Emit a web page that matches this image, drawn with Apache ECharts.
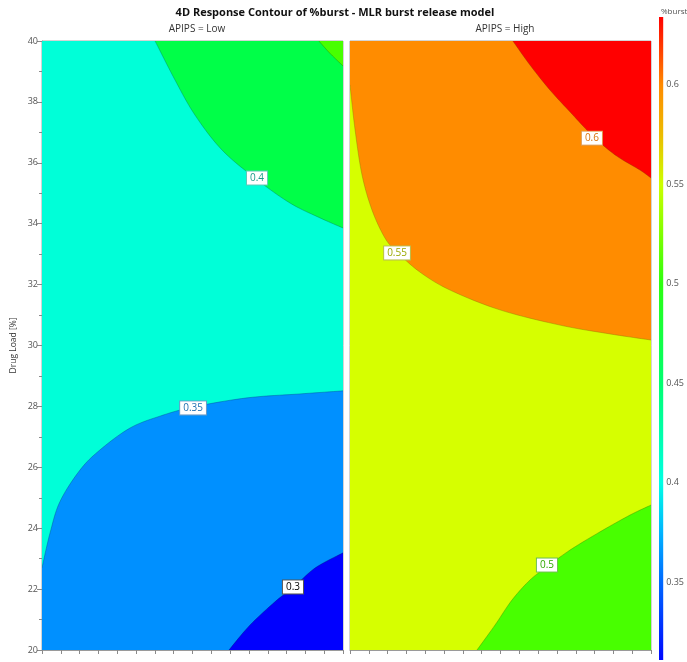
<!DOCTYPE html>
<html><head><meta charset="utf-8">
<script src="https://cdn.jsdelivr.net/npm/echarts@6/dist/echarts.min.js"></script>
<style>html,body{margin:0;padding:0;background:#fff}#c{width:687px;height:662px}</style>
</head><body><div id="c"></div>
<script>
// ---- data (x: factor position 0..16, y: Drug Load [%]) ----
const xRange = [0, 16];
const yRange = [20, 40];
const colorbarTicks = [0.35, 0.4, 0.45, 0.5, 0.55, 0.6];
const colorbarRange = [0.311, 0.634];
const panelTitles = ['APIPS = Low', 'APIPS = High'];

// APIPS = Low contour lines
const low030 = [[9.94,20],[11.06,20.82],[12.49,21.64],[13.34,22.04],[14.51,22.69],[16,23.19]];
const low035 = [[0,22.7],[0.43,23.85],[0.96,24.88],[2.02,25.91],[3.08,26.57],[4.68,27.29],[6.27,27.68],[8.03,27.98],[10.9,28.28],[13.71,28.41],[16,28.51]];
const low040 = [[6.01,40],[7.07,38.72],[8.13,37.57],[9.57,36.42],[11.38,35.47],[13.18,34.68],[14.78,34.19],[16,33.86]];
const low045 = [[14.72,40],[15.3,39.6],[16,39.18]];
// APIPS = High contour lines
const high050 = [[6.75,20],[7.71,20.82],[8.61,21.64],[9.57,22.3],[10.47,22.73],[11.69,23.28],[13.29,23.88],[14.88,24.43],[16,24.76]];
const high055 = [[0,38.56],[0.27,37.08],[0.64,35.6],[1.17,34.45],[1.86,33.53],[2.5,33.07],[3.72,32.41],[5.32,31.82],[7.97,31.17],[11.16,30.67],[13.82,30.38],[16,30.18]];
const high060 = [[8.66,40],[9.57,39.21],[10.63,38.39],[11.7,37.67],[12.86,36.91],[14.09,36.26],[15.42,35.76],[16,35.5]];

// contour label positions [x, y, text]
const lowLabels = [[11.43,35.5,'0.4'],[8.03,27.95,'0.35'],[13.34,22.07,'0.3']];
const highLabels = [[12.86,36.81,'0.6'],[2.5,33.04,'0.55'],[10.47,22.79,'0.5']];

// ---- build regions ----
const full = [[xRange[0],yRange[0]],[xRange[1],yRange[0]],[xRange[1],yRange[1]],[xRange[0],yRange[1]]];
const TR = [xRange[1],yRange[1]], BR = [xRange[1],yRange[0]], BL = [xRange[0],yRange[0]], TL = [xRange[0],yRange[1]];

const lowRegions = [
  {curve: full, corners: [], color: '#00ffd8', flat: true},
  {curve: low040, corners: [TR], color: '#00ff48', line: 'rgba(0,120,80,0.5)'},
  {curve: low045, corners: [TR], color: '#48ff00', line: 'rgba(40,120,0,0.5)'},
  {curve: low035, corners: [BR, BL], color: '#0090ff', line: 'rgba(0,70,140,0.5)'},
  {curve: low030, corners: [BR], color: '#0000ff', line: 'rgba(0,0,120,0.5)'}
];
const highRegions = [
  {curve: full, corners: [], color: '#d6ff00', flat: true},
  {curve: high055, corners: [TR, TL], color: '#ff8c00', line: 'rgba(140,120,0,0.5)'},
  {curve: high060, corners: [TR], color: '#ff0000', line: 'rgba(140,40,0,0.5)'},
  {curve: high050, corners: [BR], color: '#48ff00', line: 'rgba(60,130,0,0.5)'}
];

const labelStyles = {
  '0.4': {c: '#1a9c8a', b: '#5cc8b8'},
  '0.35': {c: '#1f6fb0', b: '#6a9cc8'},
  '0.3': {c: '#000000', b: '#555555'},
  '0.6': {c: '#d9730d', b: '#e09a50'},
  '0.55': {c: '#9aa800', b: '#b8c050'},
  '0.5': {c: '#2fa800', b: '#70c050'}
};

// Catmull-Rom smoothing of pixel points (rendering only)
function smoothPx(p) {
  if (p.length < 3) return p;
  const out = [];
  const n = p.length;
  for (let i = 0; i < n - 1; i++) {
    const p0 = p[Math.max(0, i - 1)], p1 = p[i], p2 = p[i + 1], p3 = p[Math.min(n - 1, i + 2)];
    const steps = 10;
    for (let s = 0; s < steps; s++) {
      const t = s / steps, t2 = t * t, t3 = t2 * t;
      out.push([0, 1].map(function (k) {
        return 0.5 * ((2 * p1[k]) + (-p0[k] + p2[k]) * t + (2 * p0[k] - 5 * p1[k] + 4 * p2[k] - p3[k]) * t2 + (-p0[k] + 3 * p1[k] - 3 * p2[k] + p3[k]) * t3);
      }));
    }
  }
  out.push(p[n - 1]);
  return out;
}

function regionSeries(idx, regions) {
  return {
    type: 'custom', coordinateSystem: 'cartesian2d', xAxisIndex: idx, yAxisIndex: idx,
    silent: true, clip: true,
    data: regions.map(function (r, i) { return [i, 0]; }),
    renderItem: function (params, api) {
      const r = regions[params.dataIndex];
      const curvePx = r.curve.map(function (p) { return api.coord(p); });
      const sm = r.flat ? curvePx : smoothPx(curvePx);
      const pts = sm.concat(r.corners.map(function (p) { return api.coord(p); }));
      const children = [{type: 'polygon', shape: {points: pts}, style: {fill: r.color}}];
      if (r.line) {
        children.push({type: 'polyline', shape: {points: sm},
          style: {stroke: r.line, lineWidth: 0.8, fill: null}});
      }
      return {type: 'group', children: children};
    }
  };
}
function labelSeries(idx, labels) {
  return {
    type: 'custom', coordinateSystem: 'cartesian2d', xAxisIndex: idx, yAxisIndex: idx,
    silent: true, z: 5,
    data: labels.map(function (l) { return [l[0], l[1]]; }),
    renderItem: function (params, api) {
      const l = labels[params.dataIndex];
      const p = api.coord([l[0], l[1]]);
      const s = labelStyles[l[2]];
      return {type: 'text', x: p[0], y: p[1], style: {
        text: l[2], fill: s.c, fontSize: 10, fontFamily: 'Open Sans',
        align: 'center', verticalAlign: 'middle',
        backgroundColor: '#ffffff', borderColor: s.b, borderWidth: 1, padding: [2, 3, 1, 3]
      }};
    }
  };
}

const gradStops = [
  [0.634, '#ff0000'], [0.615, '#ff4a00'], [0.6, '#ff8a00'], [0.575, '#ecbc00'], [0.55, '#ccff00'],
  [0.525, '#80ff00'], [0.5, '#2cff10'], [0.45, '#00ff70'], [0.4, '#00ffe4'], [0.375, '#00b4ff'],
  [0.35, '#0068ff'], [0.311, '#0008ff']
];

const axisCommonX = function (g) {
  return {gridIndex: g, type: 'value', min: xRange[0], max: xRange[1], interval: 1,
    axisLine: {show: true, onZero: false, lineStyle: {color: '#9a9a9a'}},
    axisTick: {show: true, length: 4, lineStyle: {color: '#8a8a8a'}},
    axisLabel: {show: false}, splitLine: {show: false}};
};

const chart = echarts.init(document.getElementById('c'), null, {renderer: 'canvas'});
chart.setOption({
  animation: false,
  title: [
    {text: '4D Response Contour of %burst - MLR burst release model', left: 330, top: 2, textAlign: 'center',
      textStyle: {fontSize: 11, fontWeight: 'bold', fontFamily: 'Open Sans', color: '#111'}},
    {text: panelTitles[0], left: 192, top: 19, textAlign: 'center', textStyle: {fontSize: 10, fontWeight: 'normal', fontFamily: 'Open Sans', color: '#333'}},
    {text: panelTitles[1], left: 500, top: 19, textAlign: 'center', textStyle: {fontSize: 10, fontWeight: 'normal', fontFamily: 'Open Sans', color: '#333'}},
    {text: '%burst', left: 656, top: 3, textStyle: {fontSize: 8, fontWeight: 'normal', fontFamily: 'Open Sans', color: '#555'}}
  ],
  grid: [
    {left: 42, top: 41, width: 301, height: 609, show: true, borderColor: '#a8a8a8', backgroundColor: 'transparent'},
    {left: 350, top: 41, width: 301, height: 609, show: true, borderColor: '#a8a8a8', backgroundColor: 'transparent'},
    {left: 659, top: 17, width: 10, height: 643, show: false}
  ],
  xAxis: [axisCommonX(0), axisCommonX(1),
    {gridIndex: 2, type: 'value', min: 0, max: 1, show: false}],
  yAxis: [
    {gridIndex: 0, type: 'value', min: yRange[0], max: yRange[1], interval: 2,
      axisLine: {show: true, lineStyle: {color: '#9a9a9a'}},
      axisTick: {show: true, length: 5, lineStyle: {color: '#8a8a8a'}},
      minorTick: {show: true, splitNumber: 2, length: 3, lineStyle: {color: '#8a8a8a'}},
      axisLabel: {fontSize: 9, color: '#555', margin: 4, fontFamily: 'Open Sans'},
      splitLine: {show: false},
      name: 'Drug Load [%]', nameLocation: 'middle', nameGap: 24,
      nameTextStyle: {fontSize: 8.5, color: '#333', fontFamily: 'Open Sans'}},
    {gridIndex: 1, type: 'value', min: yRange[0], max: yRange[1], interval: 2,
      axisLine: {show: false}, axisTick: {show: false}, axisLabel: {show: false}, splitLine: {show: false}},
    {gridIndex: 2, type: 'value', min: colorbarRange[0], max: colorbarRange[1], position: 'right',
      axisLine: {show: false}, axisTick: {show: false}, splitLine: {show: false},
      axisLabel: {customValues: colorbarTicks, fontSize: 9, color: '#555', margin: 3, fontFamily: 'Open Sans',
        formatter: function (v) { return String(+v.toFixed(2)); }}}
  ],
  series: [
    regionSeries(0, lowRegions),
    regionSeries(1, highRegions),
    labelSeries(0, lowLabels),
    labelSeries(1, highLabels),
    {
      type: 'custom', coordinateSystem: 'cartesian2d', xAxisIndex: 2, yAxisIndex: 2, silent: true,
      data: [[0, colorbarRange[0]]],
      renderItem: function (params, api) {
        const top = api.coord([0, colorbarRange[1]]);
        const bot = api.coord([1, colorbarRange[0]]);
        const span = colorbarRange[1] - colorbarRange[0];
        const stops = gradStops.map(function (s) { return {offset: (colorbarRange[1] - s[0]) / span, color: s[1]}; });
        return {type: 'rect', shape: {x: top[0], y: top[1], width: bot[0] - top[0], height: bot[1] - top[1]},
          style: {fill: new echarts.graphic.LinearGradient(0, 0, 0, 1, stops)}};
      }
    }
  ]
});
</script>
</body></html>
